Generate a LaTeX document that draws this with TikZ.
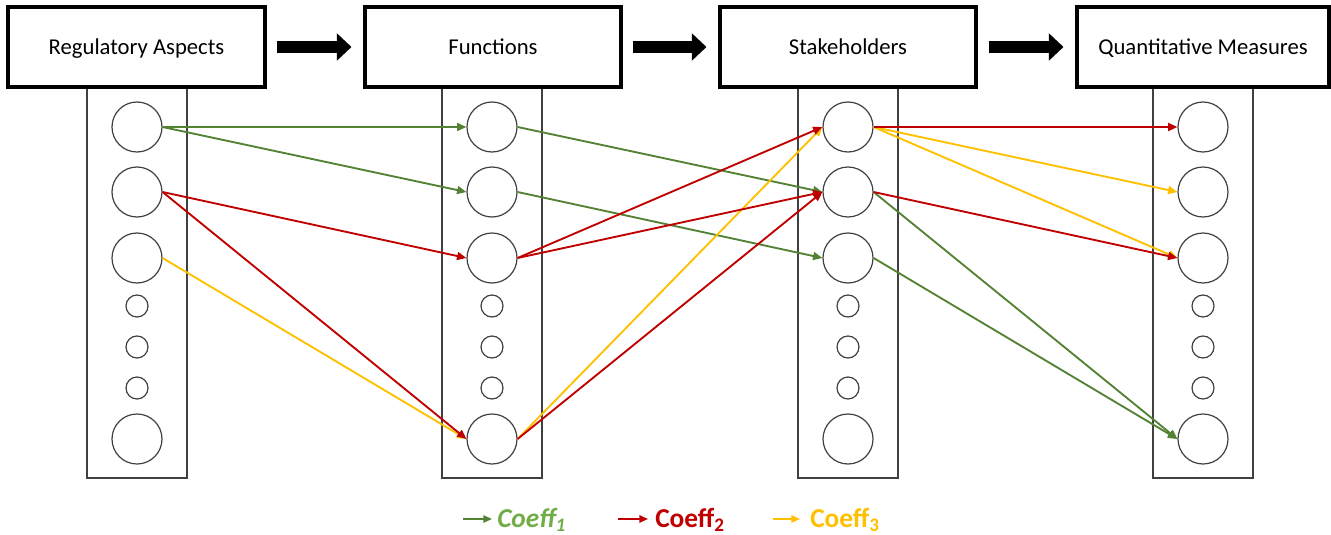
\documentclass[tikz,border=0pt]{standalone}
\usepackage{fontspec}
\setmainfont{Carlito}
\usetikzlibrary{arrows.meta,calc}
\definecolor{cgreen}{HTML}{548235}
\definecolor{clgreen}{HTML}{70AD47}
\definecolor{cred}{HTML}{C00000}
\definecolor{cyellow}{HTML}{FFC000}
\definecolor{cgray}{HTML}{404040}

\begin{document}
\begin{tikzpicture}[x=0.75pt,y=-0.75pt,
  hbox/.style={draw=black, line width=2.3pt, fill=white, minimum height=60pt,
    inner sep=0pt, text height=11pt, text depth=0pt, font=\fontsize{17}{20}\selectfont},
  colbox/.style={draw=cgray, line width=1pt, minimum width=75pt,
    minimum height=293.25pt, inner sep=0pt},
  big/.style={circle, draw=cgray, line width=0.9pt, minimum size=37.5pt, inner sep=0pt},
  small/.style={circle, draw=cgray, line width=0.9pt, minimum size=16.5pt, inner sep=0pt},
  link/.style={line width=1.4pt, -{Triangle[length=7pt,width=6pt]}},
  gl/.style={link, draw=cgreen, fill=cgreen},
  rl/.style={link, draw=cred, fill=cred},
  yl/.style={link, draw=cyellow, fill=cyellow},
  flow/.style={line width=9pt, -{Triangle[length=11pt,width=20pt]}},
  keytext/.style={anchor=base west, inner sep=0pt, font=\fontsize{20.5}{24}\selectfont\bfseries},
  keyarrow/.style={line width=1.3pt, -{Triangle[length=6.5pt,width=5.5pt]}},
]
\useasboundingbox (0,0) rectangle (1331,535);

% vertical layer columns
\foreach \c/\x in {r/137,f/492,s/848,q/1203}{
  \node[colbox] (\c col) at (\x,282.5) {};
  \node[big]   (\c1) at (\x,127) {};
  \node[big]   (\c2) at (\x,192) {};
  \node[big]   (\c3) at (\x,258) {};
  \node[small] (\c4) at (\x,306) {};
  \node[small] (\c5) at (\x,347) {};
  \node[small] (\c6) at (\x,388) {};
  \node[big]   (\c7) at (\x,439) {};
}

% layer headers
\node[hbox, minimum width=192.75pt] (h1) at (136.5,47) {Regulatory Aspects};
\node[hbox, minimum width=192pt]    (h2) at (493,47)   {Functions};
\node[hbox, minimum width=192pt]    (h3) at (848,47)   {Stakeholders};
\node[hbox, minimum width=189pt]    (h4) at (1203,47)  {Quantitative Measures};

% flow between layers
\draw[flow] ($(h1.east)+(10,0)$) -- ($(h2.west)+(-12,0)$);
\draw[flow] ($(h2.east)+(10,0)$) -- ($(h3.west)+(-12,0)$);
\draw[flow] ($(h3.east)+(11,0)$) -- ($(h4.west)+(-12,0)$);

% coefficient 1 links
\draw[gl] (r1.east) -- (f1.west);
\draw[gl] (r1.east) -- (f2.west);
\draw[gl] (f1.east) -- (s2.west);
\draw[gl] (f2.east) -- (s3.west);
\draw[gl] (s2.east) -- (q7.west);
\draw[gl] (s3.east) -- (q7.west);

% coefficient 3 links
\draw[yl] (r3.east) -- (f7.west);
\draw[yl] (f7.east) -- (s1.west);
\draw[yl] (s1.east) -- (q2.west);
\draw[yl] (s1.east) -- (q3.west);

% coefficient 2 links
\draw[rl] (r2.east) -- (f3.west);
\draw[rl] (r2.east) -- (f7.west);
\draw[rl] (f3.east) -- (s1.west);
\draw[rl] (f3.east) -- (s2.west);
\draw[rl] (f7.east) -- (s2.west);
\draw[rl] (s1.east) -- (q1.west);
\draw[rl] (s2.east) -- (q3.west);

% legend
\coordinate (k1s) at (463,519); \coordinate (k1e) at (492,519);
\coordinate (k2s) at (618,519); \coordinate (k2e) at (648,519);
\coordinate (k3s) at (773,519); \coordinate (k3e) at (800,519);
\draw[keyarrow, draw=cgreen, fill=cgreen] (k1s) -- (k1e);
\draw[keyarrow, draw=cred, fill=cred] (k2s) -- (k2e);
\draw[keyarrow, draw=cyellow, fill=cyellow] (k3s) -- (k3e);
\node[keytext, text=clgreen, font=\fontsize{20.5}{24}\selectfont\bfseries\itshape] (k1) at (497,527) {Coeff\textsubscript{1}};
\node[keytext, text=cred] (k2) at (655,527) {Coeff\textsubscript{2}};
\node[keytext, text=cyellow] (k3) at (810,527) {Coeff\textsubscript{3}};
\end{tikzpicture}
\end{document}
